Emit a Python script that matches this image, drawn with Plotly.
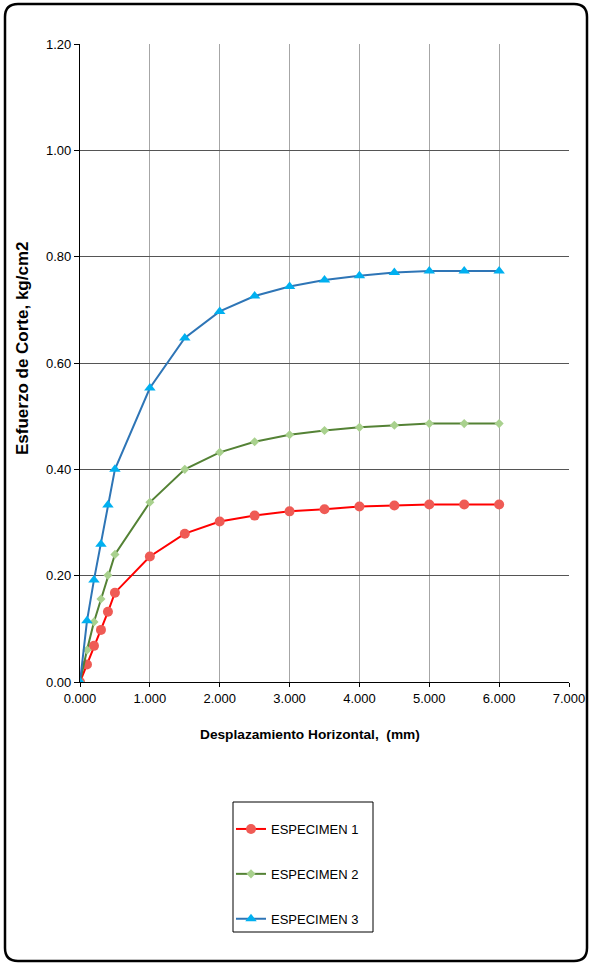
import plotly.graph_objects as go

x_vals = [0, 0.1, 0.2, 0.3, 0.4, 0.5, 1.0, 1.5, 2.0, 2.5, 3.0, 3.5, 4.0, 4.5, 5.0, 5.5, 6.0]
esp1 = [0.000, 0.033, 0.068, 0.098, 0.132, 0.168, 0.236, 0.279, 0.302, 0.313, 0.321, 0.325, 0.330, 0.332, 0.334, 0.334, 0.334]
esp2 = [0.000, 0.060, 0.113, 0.156, 0.201, 0.240, 0.338, 0.400, 0.432, 0.452, 0.465, 0.473, 0.479, 0.483, 0.486, 0.486, 0.486]
esp3 = [0.000, 0.115, 0.192, 0.259, 0.333, 0.400, 0.553, 0.647, 0.697, 0.726, 0.744, 0.756, 0.764, 0.770, 0.773, 0.773, 0.773]
names = ["ESPECIMEN 1", "ESPECIMEN 2", "ESPECIMEN 3"]
x_ticks = [0, 1, 2, 3, 4, 5, 6, 7]
y_ticks = [0, 0.2, 0.4, 0.6, 0.8, 1.0, 1.2]
x_title = "Desplazamiento Horizontal,  (mm)"
y_title = "Esfuerzo de Corte, kg/cm2"

W, H = 590, 965
L, R, T, B = 80, 569, 44, 682


def px(xp):
    return (xp - L) / (R - L)


def py(yp):
    return (B - yp) / (B - T)


fig = go.Figure()
fig.add_trace(go.Scatter(x=x_vals, y=esp1, name=names[0], mode="lines+markers",
                         line=dict(color="#ff0000", width=2),
                         marker=dict(symbol="circle", size=10, color="#ef5b55"),
                         legendgroup="a"))
fig.add_trace(go.Scatter(x=x_vals, y=esp2, name=names[1], mode="lines+markers",
                         line=dict(color="#548235", width=2),
                         marker=dict(symbol="diamond", size=7, color="#a9d18e"),
                         legendgroup="b"))
fig.add_trace(go.Scatter(x=x_vals, y=esp3, name=names[2], mode="lines+markers",
                         line=dict(color="#2e75b6", width=2),
                         marker=dict(symbol="triangle-up", size=10, color="#00b0f0"),
                         legendgroup="c"))

# outer rounded frame
r = 13
x0, x1, y0, y1 = 5, 587, 4, 961
path = (f"M {px(x0+r)},{py(y0)} L {px(x1-r)},{py(y0)} "
        f"Q {px(x1)},{py(y0)} {px(x1)},{py(y0+r)} "
        f"L {px(x1)},{py(y1-r)} Q {px(x1)},{py(y1)} {px(x1-r)},{py(y1)} "
        f"L {px(x0+r)},{py(y1)} Q {px(x0)},{py(y1)} {px(x0)},{py(y1-r)} "
        f"L {px(x0)},{py(y0+r)} Q {px(x0)},{py(y0)} {px(x0+r)},{py(y0)} Z")
shapes = [
    dict(type="path", xref="paper", yref="paper", path=path,
         line=dict(color="black", width=2.5), layer="below"),
    dict(type="rect", xref="paper", yref="paper",
         x0=px(233), x1=px(373), y0=py(802), y1=py(932),
         line=dict(color="black", width=1)),
]

annotations = [
    dict(text=f"<b>{x_title}</b>", xref="paper", yref="paper",
         x=px(310), y=py(734), xanchor="center", yanchor="middle",
         showarrow=False, font=dict(size=13.7)),
    dict(text=f"<b>{y_title}</b>", xref="paper", yref="paper",
         x=px(22), y=py(348), xanchor="center", yanchor="middle",
         textangle=-90, showarrow=False, font=dict(size=17)),
]

fig.update_layout(
    width=W, height=H,
    margin=dict(l=L, r=W - R, t=T, b=H - B),
    paper_bgcolor="white", plot_bgcolor="white",
    font=dict(family="Liberation Sans, Arial, sans-serif", size=13, color="black"),
    shapes=shapes,
    annotations=annotations,
    showlegend=True,
    legend=dict(x=px(231), y=py(814), xanchor="left", yanchor="top",
                bgcolor="rgba(0,0,0,0)", borderwidth=0,
                font=dict(size=13), tracegroupgap=25, traceorder="grouped",
                itemwidth=30),
)
fig.update_xaxes(range=[0, 7], tickvals=x_ticks,
                 ticktext=[f"{v:.3f}" for v in x_ticks],
                 showgrid=True, gridcolor="#a6a6a6", gridwidth=1,
                 showline=True, linecolor="black", linewidth=1.3,
                 ticks="outside", ticklen=4, tickcolor="black",
                 zeroline=False, tickfont=dict(size=13), automargin=False)
fig.update_yaxes(range=[0, 1.2], tickvals=y_ticks,
                 ticktext=[f"{v:.2f}" for v in y_ticks],
                 showgrid=True, gridcolor="#555555", gridwidth=1,
                 showline=True, linecolor="black", linewidth=1.3,
                 ticks="outside", ticklen=5, tickcolor="black",
                 zeroline=False, tickfont=dict(size=13), automargin=False)

fig.write_html(
    "out.html",
    config={"displayModeBar": False, "responsive": False},
    post_script=("document.documentElement.style.overflow='hidden';"
                 "document.body.style.overflow='hidden';"
                 "document.body.style.margin='0px';"),
)
